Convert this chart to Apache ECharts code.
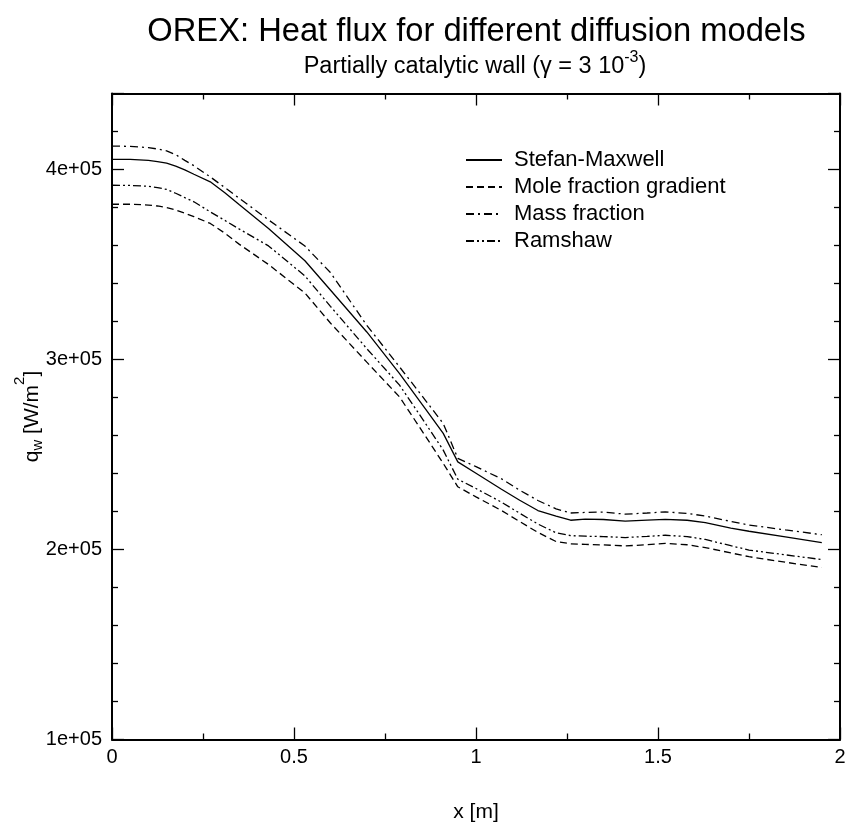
<!DOCTYPE html>
<html>
<head>
<meta charset="utf-8">
<script src="https://cdn.jsdelivr.net/npm/echarts@6/dist/echarts.min.js"></script>
<style>html,body{margin:0;padding:0;background:#fff}#c{width:845px;height:822px}</style>
</head>
<body>
<div id="c"></div>
<script>
// x positions [m]
const xPos = [0, 0.05, 0.1, 0.125, 0.15, 0.175, 0.2, 0.225, 0.27, 0.31, 0.35, 0.43, 0.53, 0.6, 0.7, 0.79, 0.86, 0.91, 0.95, 1.0, 1.07, 1.12, 1.17, 1.22, 1.26, 1.3, 1.35, 1.41, 1.47, 1.52, 1.58, 1.63, 1.7, 1.75, 1.85, 1.95];
// heat flux q_w [W/m^2]
const stefanMaxwell = [405300, 405300, 404800, 404200, 403300, 401800, 399800, 397500, 393500, 387800, 381500, 369000, 352000, 336600, 314500, 292600, 274300, 261100, 246100, 240100, 231700, 225900, 220500, 217600, 215400, 216000, 215800, 214900, 215500, 215900, 215400, 214200, 211300, 209600, 206700, 203600];
const moleFraction = [381700, 381700, 381300, 380800, 380000, 378700, 377000, 375200, 371600, 366500, 360600, 350000, 335000, 319200, 298600, 280300, 260000, 245300, 233000, 227700, 220500, 214700, 209000, 204200, 203000, 202700, 202400, 201900, 202500, 203200, 202500, 201000, 198200, 196200, 193300, 190500];
const massFraction = [412300, 412200, 411500, 410800, 409800, 407800, 404800, 402000, 396100, 390500, 384800, 373500, 359700, 345800, 318000, 296100, 278800, 266300, 248000, 243600, 237200, 231200, 225800, 221400, 219200, 219500, 219700, 218600, 219200, 219800, 219000, 217600, 214800, 212900, 210300, 207800];
const ramshaw = [391700, 391600, 391200, 390500, 389500, 387500, 385200, 383000, 377700, 373200, 368600, 359800, 344000, 328000, 305700, 286500, 266700, 252300, 237000, 232100, 224900, 219100, 213400, 208800, 207300, 207000, 206800, 206300, 206900, 207500, 206800, 205300, 202000, 199700, 197200, 194700];
const seriesNames = ['Stefan-Maxwell', 'Mole fraction gradient', 'Mass fraction', 'Ramshaw'];
const seriesValues = [stefanMaxwell, moleFraction, massFraction, ramshaw];
const dashTypes = ['solid', [7, 4], [8, 4, 2, 4], [8, 3, 2, 3, 2, 3]];

const FONT = 'Liberation Sans, Arial, sans-serif';
const chart = echarts.init(document.getElementById('c'), null, {renderer: 'canvas'});

function yFmt(v) {
  if (Math.abs(v % 100000) > 1e-6) return '';
  return (v / 100000) + 'e+05';
}
function xFmt(v) {
  if (Math.abs(v * 2 - Math.round(v * 2)) > 1e-9) return '';
  return String(v);
}
const axisLineStyle = {color: '#000', width: 2};
const tickStyle = {color: '#000', width: 1.3};

const option = {
  animation: false,
  backgroundColor: '#fff',
  title: [
    {text: 'OREX: Heat flux for different diffusion models', left: 471.5, top: 10, textAlign: 'center',
     textStyle: {fontFamily: FONT, fontSize: 32.7, fontWeight: 'normal', color: '#000'}},
    {text: '{n|Partially catalytic wall (γ = 3 10}{sup|-3}{n|)}', left: 470, top: 45, textAlign: 'center',
     textStyle: {fontFamily: FONT, fontSize: 23.5, fontWeight: 'normal', color: '#000',
       rich: {
         n: {fontFamily: FONT, fontSize: 23.5, padding: [5, 0, 0, 0], verticalAlign: 'bottom', color: '#000'},
         sup: {fontFamily: FONT, fontSize: 16, verticalAlign: 'top', color: '#000'}}}}
  ],
  legend: {
    orient: 'vertical', left: 460, top: 143, itemWidth: 36, itemHeight: 14, itemGap: 3,
    data: seriesNames,
    itemStyle: {opacity: 0, color: 'transparent', borderColor: 'transparent'},
    textStyle: {fontFamily: FONT, fontSize: 22, color: '#000', lineHeight: 24, padding: [0, 0, 0, 7]}
  },
  grid: {left: 112, top: 93.5, right: 5, bottom: 82.5, outerBoundsMode: 'none', containLabel: false},
  xAxis: [
    {type: 'value', min: 0, max: 2, interval: 0.5, position: 'bottom',
     name: 'x [m]', nameLocation: 'middle', nameGap: 62, nameMoveOverlap: false,
     nameTextStyle: {fontFamily: FONT, fontSize: 21, color: '#000'},
     axisLine: {show: true, onZero: false, lineStyle: axisLineStyle},
     axisTick: {show: true, inside: true, length: 12, lineStyle: tickStyle},
     minorTick: {show: true, splitNumber: 2, length: 6, lineStyle: tickStyle},
     axisLabel: {formatter: xFmt, fontFamily: FONT, fontSize: 20, color: '#000', margin: 8, showMaxLabel: true},
     splitLine: {show: false}, minorSplitLine: {show: false}},
    {type: 'value', min: 0, max: 2, interval: 0.5, position: 'top',
     axisLine: {show: true, onZero: false, lineStyle: axisLineStyle},
     axisTick: {show: true, inside: true, length: 12, lineStyle: tickStyle},
     minorTick: {show: true, splitNumber: 2, length: 6, lineStyle: tickStyle},
     axisLabel: {show: false}, splitLine: {show: false}}
  ],
  yAxis: [
    {type: 'value', min: 100000, max: 440000, interval: 100000, position: 'left',
     name: '{n|q}{sub|w}{n| [W/m}{sup|2}{n|]}', nameLocation: 'middle', nameGap: 67, nameMoveOverlap: false,
     nameTextStyle: {fontFamily: FONT, fontSize: 21, color: '#000',
       rich: {
         n: {fontFamily: FONT, fontSize: 21, padding: [10, 0, 2, 0], verticalAlign: 'top', color: '#000'},
         sub: {fontFamily: FONT, fontSize: 15, verticalAlign: 'bottom', color: '#000'},
         sup: {fontFamily: FONT, fontSize: 15, verticalAlign: 'top', color: '#000'}}},
     axisLine: {show: true, onZero: false, lineStyle: axisLineStyle},
     axisTick: {show: true, inside: true, length: 12, lineStyle: tickStyle},
     minorTick: {show: true, splitNumber: 5, length: 6, lineStyle: tickStyle},
     axisLabel: {formatter: yFmt, fontFamily: FONT, fontSize: 20, color: '#000', margin: 10},
     splitLine: {show: false}},
    {type: 'value', min: 100000, max: 440000, interval: 100000, position: 'right',
     axisLine: {show: true, onZero: false, lineStyle: axisLineStyle},
     axisTick: {show: true, inside: true, length: 12, lineStyle: tickStyle},
     minorTick: {show: true, splitNumber: 5, length: 6, lineStyle: tickStyle},
     axisLabel: {show: false}, splitLine: {show: false}}
  ],
  series: seriesNames.map((name, i) => ({
    name: name, type: 'line', xAxisIndex: 0, yAxisIndex: 0,
    data: xPos.map((x, j) => [x, seriesValues[i][j]]),
    symbol: 'none', showSymbol: false, smooth: false,
    lineStyle: {color: '#000', width: 1.3, type: dashTypes[i]},
    itemStyle: {color: '#000'}
  }))
};
chart.setOption(option);
</script>
</body>
</html>
